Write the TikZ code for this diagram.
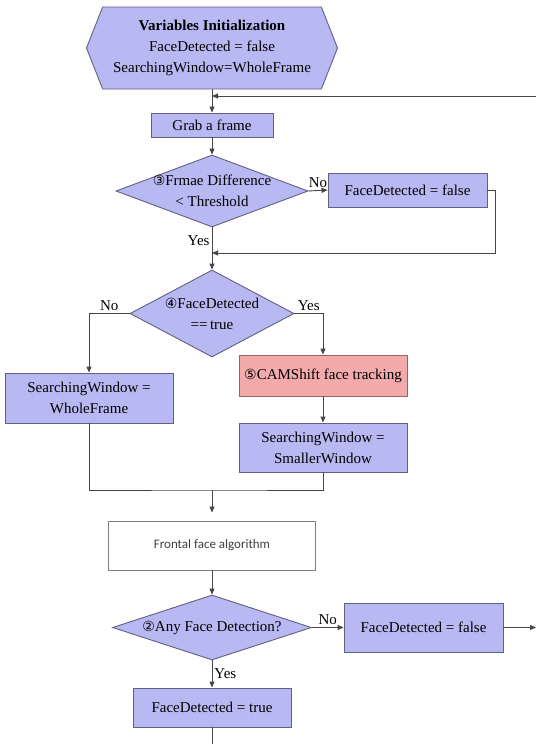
\documentclass[tikz,border=0pt]{standalone}
\usepackage{fontspec}
\setmainfont{Liberation Serif}
\newfontfamily\circfont{DejaVu Sans}
\newfontfamily\calfont{Carlito}
\usetikzlibrary{shapes.geometric,shapes.symbols,arrows.meta}
\definecolor{boxfill}{RGB}{184,184,242}
\definecolor{boxline}{RGB}{96,96,128}
\definecolor{pinkfill}{RGB}{242,170,170}
\definecolor{pinkline}{RGB}{150,100,100}
\definecolor{flowline}{RGB}{70,70,70}
\newcommand{\cnum}[1]{{\circfont\fontsize{14}{16}\selectfont#1}}
\tikzset{
  stepbox/.style={rectangle, draw=boxline, fill=boxfill, line width=0.9pt, inner sep=2pt, align=center, font=\fontsize{15}{21}\selectfont},
  trackbox/.style={stepbox, draw=pinkline, fill=pinkfill},
  plainbox/.style={rectangle, draw=flowline!70, fill=white, line width=0.9pt, font=\calfont\fontsize{13}{15}\selectfont, text=black!75},
  decision/.style={diamond, draw=boxline, fill=boxfill, line width=0.9pt, inner sep=0pt},
  decisiontext/.style={align=center, inner sep=0pt, font=\fontsize{15}{21}\selectfont},
  startbox/.style={signal, signal to=west and east, signal pointer angle=137, draw=boxline, fill=boxfill, line width=0.9pt, align=center, inner sep=2pt, font=\fontsize{15}{21}\selectfont},
  flow/.style={draw=flowline, line width=0.9pt},
  arrow/.style={flow, -{Triangle[length=6pt,width=5pt]}},
  answer/.style={font=\fontsize{15}{18}\selectfont, inner sep=2pt}
}
\begin{document}
\begin{tikzpicture}[x=1pt,y=-1pt]
\useasboundingbox (0,0) rectangle (536,744);
\node[startbox, minimum width=251pt, minimum height=82pt] (init) at (212,48) {\textbf{Variables Initialization}\\FaceDetected = false\\SearchingWindow=WholeFrame};
\node[stepbox, minimum width=122pt, minimum height=24pt] (grab) at (212,125) {Grab a frame};
\node[decision, minimum width=192pt, minimum height=72pt, label={[decisiontext]center:{\cnum{③}Frmae Difference\\< Threshold}}] (diff) at (212,191) {};
\node[stepbox, minimum width=159pt, minimum height=34pt] (fdfalse1) at (407.5,190) {FaceDetected = false};
\node[decision, minimum width=164pt, minimum height=87pt, label={[decisiontext]center:{\cnum{④}FaceDetected\\==\,true}}] (detected) at (212,313.5) {};
\node[stepbox, minimum width=168pt, minimum height=50pt] (whole) at (89,398) {SearchingWindow =\\WholeFrame};
\node[trackbox, minimum width=168pt, minimum height=41pt] (camshift) at (323,375.5) {\cnum{⑤}CAMShift face tracking};
\node[stepbox, minimum width=168pt, minimum height=49pt] (smaller) at (323,447.5) {SearchingWindow =\\SmallerWindow};
\node[plainbox, minimum width=207pt, minimum height=49pt] (frontal) at (212,545.5) {Frontal face algorithm};
\node[decision, minimum width=199pt, minimum height=65pt, label={[decisiontext]center:{\cnum{②}Any Face Detection?}}] (anyface) at (212,627.5) {};
\node[stepbox, minimum width=159pt, minimum height=49pt] (fdfalse2) at (423.5,627.5) {FaceDetected = false};
\node[stepbox, minimum width=158pt, minimum height=39pt] (fdtrue) at (212,707.5) {FaceDetected = true};
\coordinate (back) at (536,96);
\coordinate (right1) at (495,253);
\coordinate (join1) at (212,253);
\coordinate (join2) at (212,490);
\coordinate (exit) at (536,627.5);
\coordinate (tail) at (212,744);
\draw[arrow] (back) -- (back -| init.south);
\draw[arrow] (init.south) -- (grab.north);
\draw[arrow] (grab.south) -- (diff.north);
\draw[arrow] (diff.east) -- node[answer, above]{No} (fdfalse1.west);
\draw[flow] (diff.south) -- node[answer, left]{Yes} (join1);
\draw[arrow] (fdfalse1.east) -| (right1) -- (join1);
\draw[arrow] (join1) -- (detected.north);
\draw[arrow] (detected.west) -| node[answer, pos=0.25, above]{No} (whole.north);
\draw[arrow] (detected.east) -| node[answer, pos=0.25, above]{Yes} (camshift.north);
\draw[arrow] (camshift.south) -- (smaller.north);
\draw[flow] (whole.south) |- (join2) -| (smaller.south);
\draw[arrow, shorten >=8pt] (join2) -- (frontal.north);
\draw[arrow] (frontal.south) -- (anyface.north);
\draw[arrow] (anyface.east) -- node[answer, above]{No} (fdfalse2.west);
\draw[arrow] (fdfalse2.east) -- (exit);
\draw[arrow] (anyface.south) -- node[answer, right]{Yes} (fdtrue.north);
\draw[flow] (fdtrue.south) -- (tail);
\end{tikzpicture}
\end{document}
